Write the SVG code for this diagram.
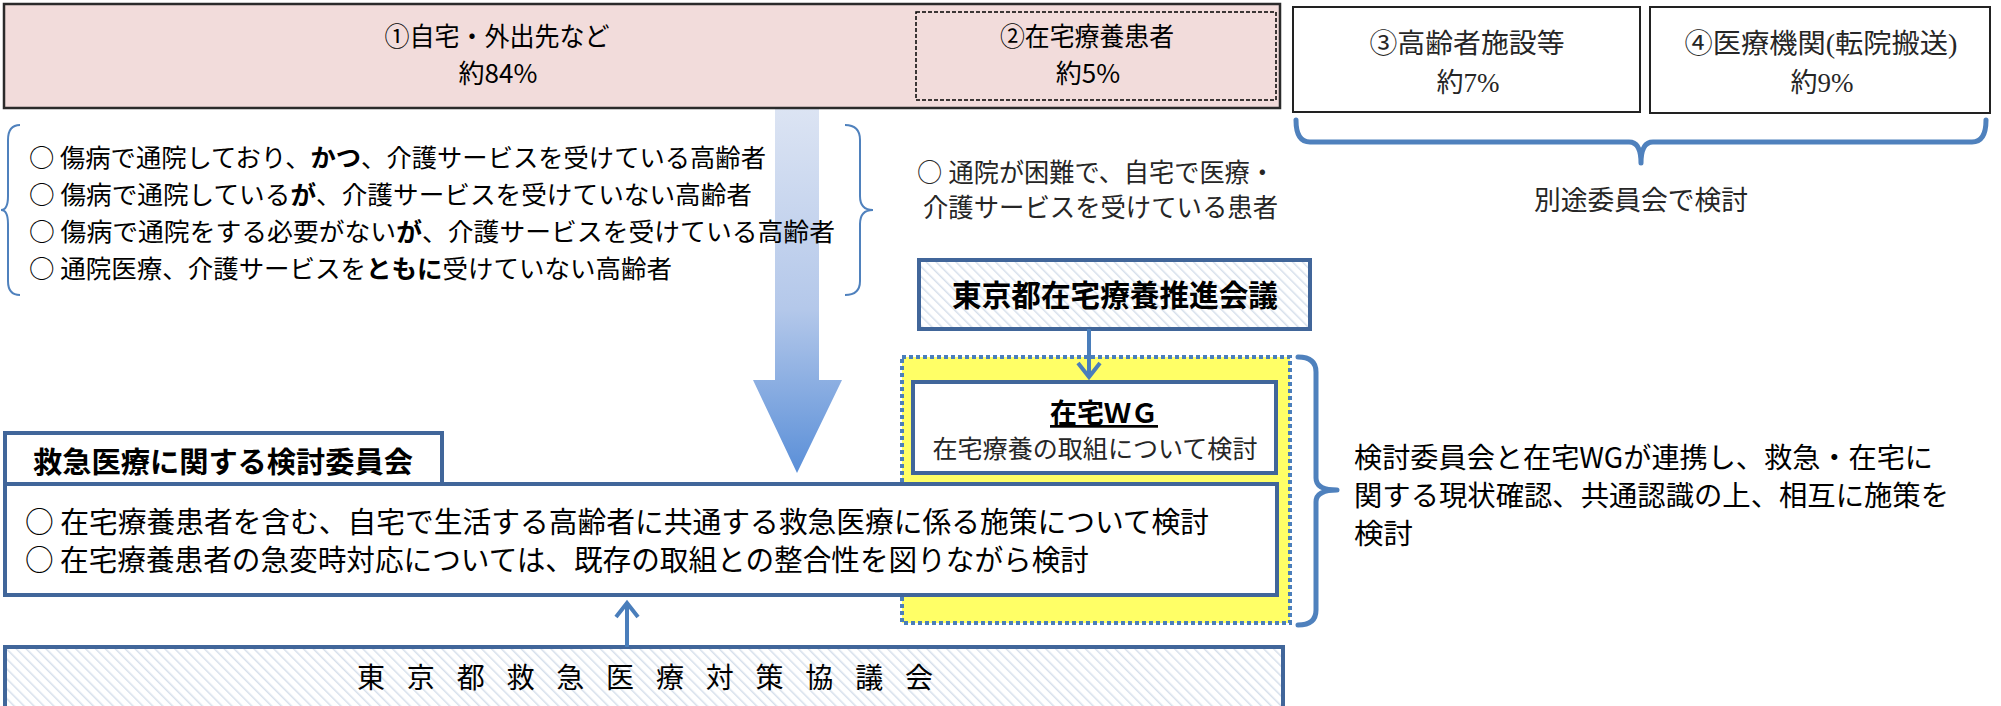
<svg xmlns="http://www.w3.org/2000/svg" width="2001" height="706" viewBox="0 0 2001 706">
<defs>
<style>
.s{font-family:"Noto Sans CJK JP","Liberation Sans",sans-serif;fill:#000}
.m{font-family:"Liberation Serif","Noto Sans CJK JP",serif;fill:#262626}
.c{font-family:"Noto Sans CJK JP",sans-serif}
.b{font-weight:bold}
.box{fill:#fff;stroke:#41669A;stroke-width:4}
.hb{fill:url(#hatch);stroke:#41669A;stroke-width:4}
.br{fill:none;stroke:#4F81BD;stroke-width:5;stroke-linejoin:round;stroke-linecap:round}
.brt{fill:none;stroke:#4F81BD;stroke-width:2}
.con{fill:none;stroke:#4A7EBB;stroke-width:4}
</style>
<pattern id="hatch" width="7" height="7" patternUnits="userSpaceOnUse" patternTransform="rotate(-45)">
<rect width="7" height="7" fill="#fff"/>
<line x1="0" y1="0" x2="0" y2="7" stroke="#D6DFEB" stroke-width="3"/>
</pattern>
<linearGradient id="ag" x1="0" y1="0" x2="0" y2="1">
<stop offset="0" stop-color="#DCE4F3"/>
<stop offset="0.55" stop-color="#B4C8EA"/>
<stop offset="1" stop-color="#5A8FD8"/>
</linearGradient>
</defs>

<g id="flow-arrow">
<polygon points="775,108 819,108 819,380 842,380 797,473 753,380 775,380" fill="url(#ag)"/>
</g>

<g id="home">
<rect x="4" y="4" width="1276" height="104" fill="#F2DCDB" stroke="#2B2B2B" stroke-width="2.5"/>
<text class="s" x="497" y="46" font-size="26" text-anchor="middle" textLength="225" lengthAdjust="spacingAndGlyphs">①自宅・外出先など</text>
<text class="s" x="498" y="83" font-size="26" text-anchor="middle">約84%</text>
</g>

<g id="homecare">
<rect x="916" y="12" width="360" height="88" fill="none" stroke="#000" stroke-width="1.5" stroke-dasharray="4 2"/>
<text class="s" x="1087" y="46" font-size="26" text-anchor="middle" textLength="174" lengthAdjust="spacingAndGlyphs">②在宅療養患者</text>
<text class="s" x="1088" y="83" font-size="26" text-anchor="middle">約5%</text>
</g>

<g id="facility">
<rect x="1293" y="7" width="347" height="105" fill="#fff" stroke="#222" stroke-width="2"/>
<text class="m" x="1467" y="53" font-size="27" text-anchor="middle" textLength="195" lengthAdjust="spacingAndGlyphs">③高齢者施設等</text>
<text class="m" x="1468" y="92" font-size="27" text-anchor="middle">約7%</text>
</g>

<g id="hospital">
<rect x="1650" y="7" width="340" height="106" fill="#fff" stroke="#222" stroke-width="2"/>
<text class="m" x="1821" y="53" font-size="27" text-anchor="middle" textLength="273" lengthAdjust="spacingAndGlyphs">④医療機関(転院搬送)</text>
<text class="m" x="1822" y="92" font-size="27" text-anchor="middle">約9%</text>
</g>

<g id="separate">
<path class="br" d="M1296 120 Q1296 142 1310 142 L1629 142 Q1641 142 1641 163 Q1641 142 1653 142 L1972 142 Q1986 142 1986 120"/>
<text class="m" x="1641" y="210" font-size="27" text-anchor="middle" textLength="214" lengthAdjust="spacingAndGlyphs">別途委員会で検討</text>
</g>

<g id="elderly">
<path class="brt" d="M20 125 Q8 125 8 140 L8 196 Q8 210 1 210 Q8 210 8 224 L8 281 Q8 295 20 295"/>
<path class="brt" d="M845 125 Q860 125 860 140 L860 196 Q860 210 873 210 Q860 210 860 224 L860 281 Q860 295 845 295"/>
<text class="s" x="29" y="167" font-size="25" textLength="737" lengthAdjust="spacingAndGlyphs">○ 傷病で通院しており、<tspan class="b">かつ</tspan>、介護サービスを受けている高齢者</text>
<text class="s" x="29" y="204" font-size="25" textLength="723" lengthAdjust="spacingAndGlyphs">○ 傷病で通院している<tspan class="b">が</tspan>、介護サービスを受けていない高齢者</text>
<text class="s" x="29" y="241" font-size="25" textLength="806" lengthAdjust="spacingAndGlyphs">○ 傷病で通院をする必要がない<tspan class="b">が</tspan>、介護サービスを受けている高齢者</text>
<text class="s" x="29" y="278" font-size="25" textLength="643" lengthAdjust="spacingAndGlyphs">○ 通院医療、介護サービスを<tspan class="b">ともに</tspan>受けていない高齢者</text>
</g>

<g id="patients">
<text class="m" x="917" y="182" font-size="26" textLength="358" lengthAdjust="spacingAndGlyphs"><tspan class="c">○</tspan> 通院が困難で、自宅で医療・</text>
<text class="m" x="923" y="217" font-size="26" textLength="355" lengthAdjust="spacingAndGlyphs">介護サービスを受けている患者</text>
</g>

<g id="suishin">
<rect class="hb" x="919" y="260" width="391" height="69"/>
<text class="s b" x="1115" y="306" font-size="30" text-anchor="middle" textLength="326" lengthAdjust="spacingAndGlyphs">東京都在宅療養推進会議</text>
</g>

<g id="yellow">
<rect x="902" y="357" width="388" height="266" fill="#FFFF66" stroke="#4A7EBB" stroke-width="4" stroke-dasharray="4 3"/>
</g>

<g id="wg">
<rect class="box" x="913" y="382" width="363" height="91"/>
<text class="s b" x="1104" y="423" font-size="27" text-anchor="middle" text-decoration="underline" textLength="108" lengthAdjust="spacingAndGlyphs">在宅ＷＧ</text>
<text class="m" x="1095" y="458" font-size="25" text-anchor="middle" fill="#404040" textLength="325" lengthAdjust="spacingAndGlyphs">在宅療養の取組について検討</text>
</g>

<g id="committee">
<rect class="box" x="5" y="433" width="437" height="51"/>
<text class="s b" x="33" y="473" font-size="29" textLength="380" lengthAdjust="spacingAndGlyphs">救急医療に関する検討委員会</text>
<rect class="box" x="5" y="484" width="1272" height="111"/>
<text class="s" x="25" y="533" font-size="29" textLength="1184" lengthAdjust="spacingAndGlyphs">○ 在宅療養患者を含む、自宅で生活する高齢者に共通する救急医療に係る施策について検討</text>
<text class="s" x="25" y="571" font-size="29" textLength="1064" lengthAdjust="spacingAndGlyphs">○ 在宅療養患者の急変時対応については、既存の取組との整合性を図りながら検討</text>
</g>

<g id="council">
<rect class="hb" x="5" y="647" width="1278" height="80"/>
<text class="s" x="357" y="688" font-size="28" textLength="576" lengthAdjust="spacing">東 京 都 救 急 医 療 対 策 協 議 会</text>
</g>

<g id="cooperation">
<path class="br" d="M1298 357 Q1316 357 1316 372 L1316 478 Q1316 490 1337 490 Q1316 490 1316 502 L1316 610 Q1316 625 1298 625"/>
<text class="s" x="1354" y="468" font-size="28" textLength="579" lengthAdjust="spacingAndGlyphs">検討委員会と在宅WGが連携し、救急・在宅に</text>
<text class="s" x="1354" y="506" font-size="28" textLength="595" lengthAdjust="spacingAndGlyphs">関する現状確認、共通認識の上、相互に施策を</text>
<text class="s" x="1354" y="544" font-size="28" textLength="59" lengthAdjust="spacingAndGlyphs">検討</text>
</g>

<g id="connectors">
<line class="con" x1="1089" y1="329" x2="1089" y2="377"/>
<polyline class="con" points="1078,363 1089,377 1100,363"/>
<line class="con" x1="627" y1="647" x2="627" y2="603"/>
<polyline class="con" points="616,617 627,603 638,617"/>
</g>
</svg>
